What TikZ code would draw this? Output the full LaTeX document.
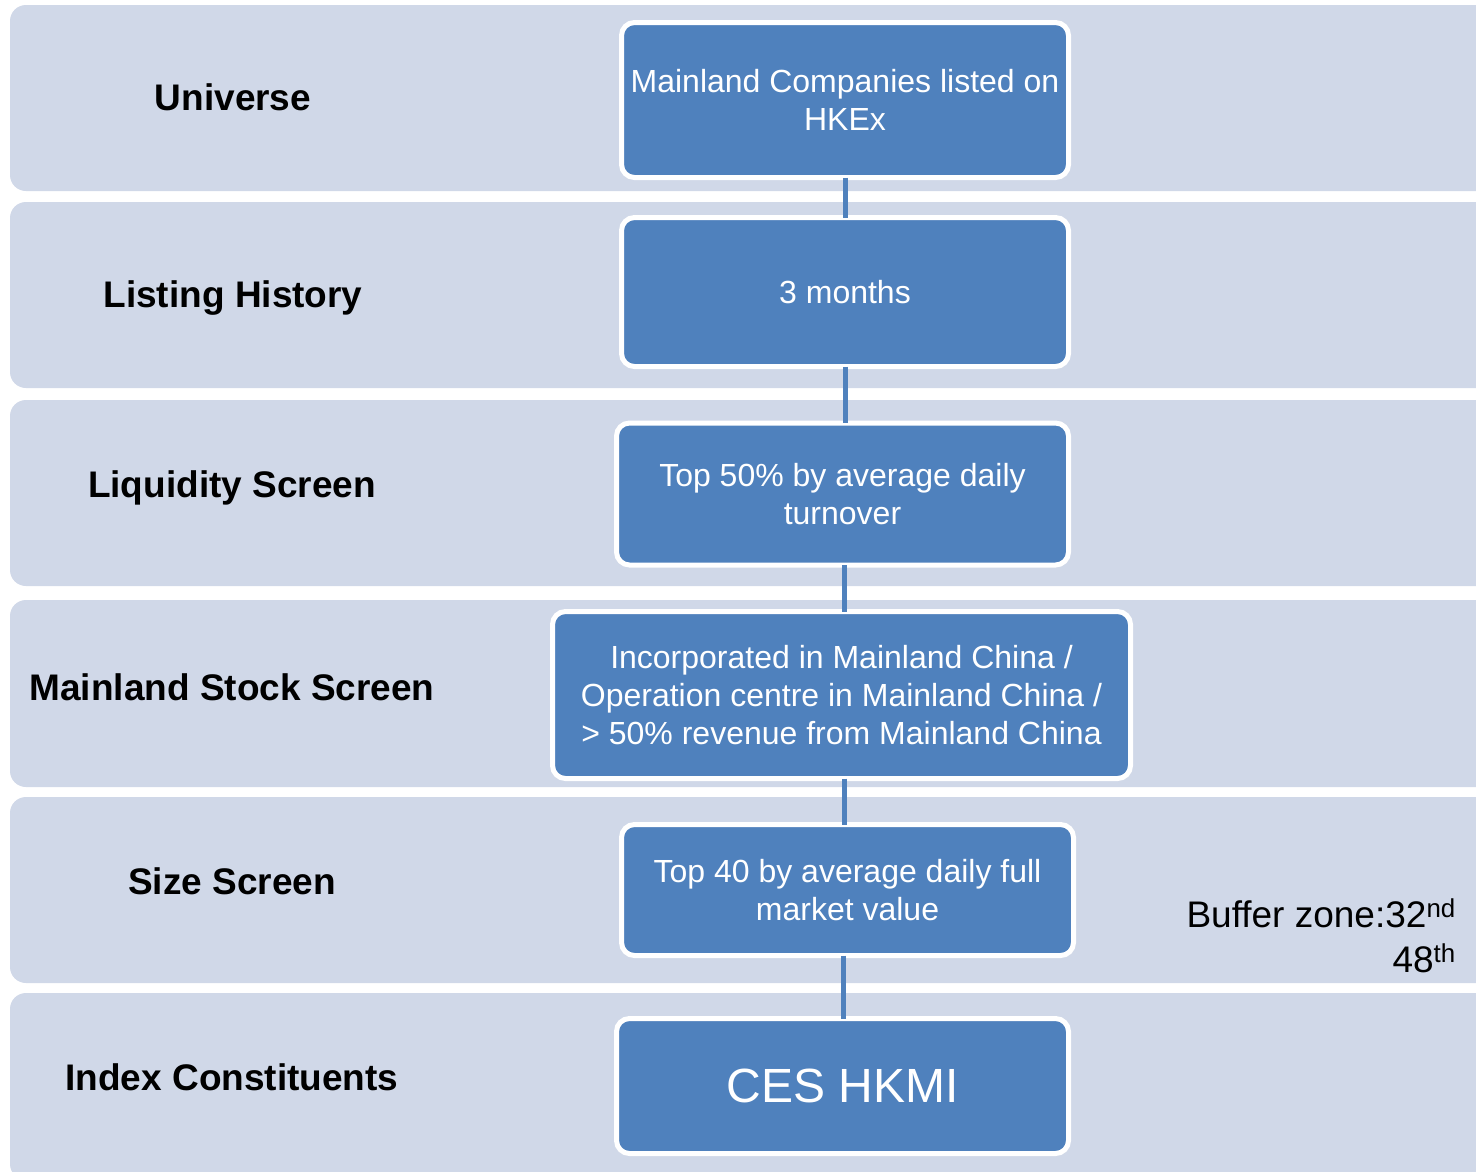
\documentclass[tikz,border=0pt]{standalone}
\usepackage{fontspec}
\setmainfont{Liberation Sans}
\definecolor{bandfill}{RGB}{208,216,232}
\definecolor{boxfill}{RGB}{79,129,189}
\begin{document}
\begin{tikzpicture}[x=1pt,y=-1pt,
  band/.style={fill=bandfill,rounded corners=16pt},
  stagebox/.style={rectangle,fill=boxfill,draw=white,line width=5pt,rounded corners=13pt,
     text=white,align=center,inner sep=0pt,font=\fontsize{32}{38}\selectfont},
  lbl/.style={font=\bfseries\fontsize{37}{42}\selectfont,text=black,anchor=center},
  conn/.style={draw=boxfill,line width=5pt}]
\useasboundingbox (0,0) rectangle (1476,1171);
\clip (0,0) rectangle (1476,1171);
\fill[white] (0,0) rectangle (1476,1171);
% bands
\foreach \t/\b in {5/191,202/388,400/586,600/787,797/983,993/1180}{
  \path[band] (10,\t) rectangle (1520,\b);
}
% boxes
\node[stagebox,minimum width=447pt,minimum height=155pt] (b1) at (845,100) {Mainland Companies listed on\\HKEx};
\node[stagebox,minimum width=447pt,minimum height=149pt] (b2) at (845,292) {3 months};
\node[stagebox,minimum width=452pt,minimum height=142pt] (b3) at (842.5,494) {Top 50\% by average daily\\turnover};
\node[stagebox,minimum width=578pt,minimum height=167pt] (b4) at (841.5,695) {Incorporated in Mainland China /\\Operation centre in Mainland China /\\> 50\% revenue from Mainland China};
\node[stagebox,minimum width=452pt,minimum height=131pt] (b5) at (847.5,890) {Top 40 by average daily full\\market value};
\node[stagebox,minimum width=452pt,minimum height=135pt,font=\fontsize{48}{56}\selectfont] (b6) at (842.5,1086) {CES HKMI};
% connectors
\draw[conn] ([yshift=2.5pt]b1.south -| 845,0) -- ([yshift=-2.5pt]b2.north -| 845,0);
\draw[conn] ([yshift=2.5pt]b2.south -| 845,0) -- ([yshift=-2.5pt]b3.north -| 845,0);
\draw[conn] ([yshift=2.5pt]b3.south -| 844,0) -- ([yshift=-2.5pt]b4.north -| 844,0);
\draw[conn] ([yshift=2.5pt]b4.south -| 844,0) -- ([yshift=-2.5pt]b5.north -| 844,0);
\draw[conn] ([yshift=2.5pt]b5.south -| 843,0) -- ([yshift=-2.5pt]b6.north -| 843,0);
% labels
\node[lbl] (l1) at (233,97) {Universe};
\node[lbl] (l2) at (233,298) {Listing History};
\node[lbl] (l3) at (232,488) {Liquidity Screen};
\node[lbl] (l4) at (232,687) {Mainland Stock Screen};
\node[lbl] (l5) at (232,881) {Size Screen};
\node[lbl] (l6) at (232,1077) {Index Constituents};
% buffer zone
\node[anchor=north east,align=right,inner sep=0pt,font=\fontsize{37}{45}\selectfont] (bz) at (1456,899) {Buffer zone:32\textsuperscript{nd}\\48\textsuperscript{th}};
\end{tikzpicture}
\end{document}
